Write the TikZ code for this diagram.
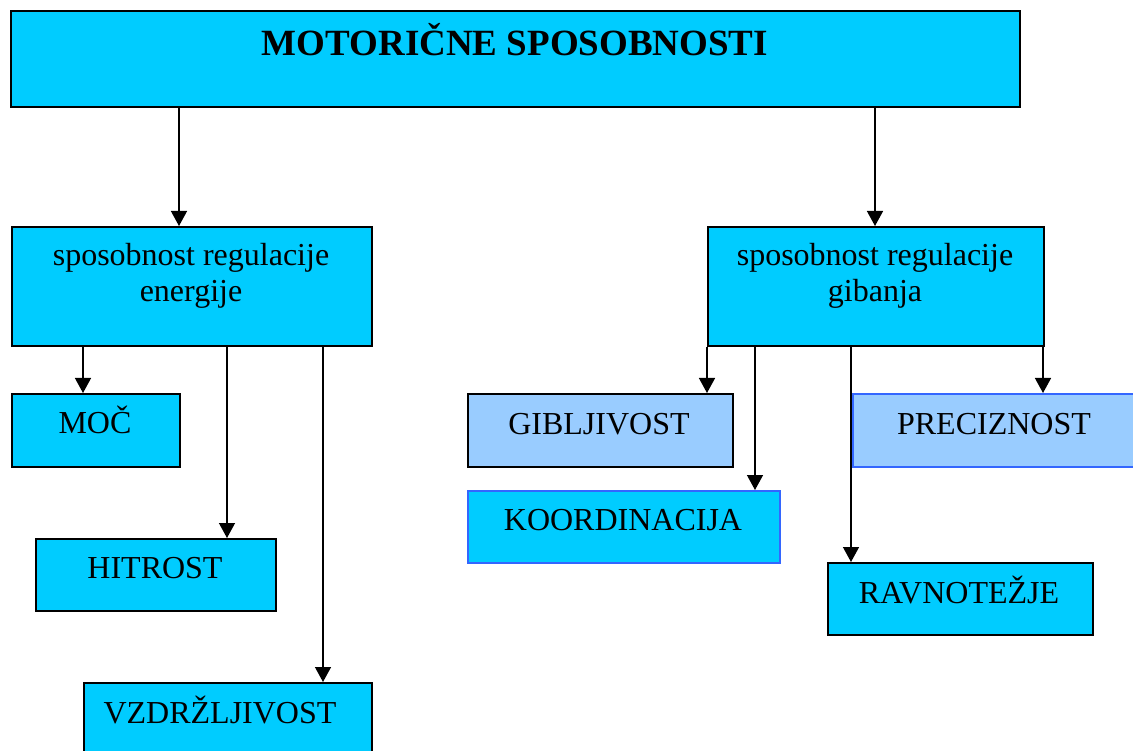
\documentclass[tikz,border=0pt]{standalone}
\usepackage{fontspec}
\setmainfont{Liberation Serif}
\usetikzlibrary{arrows.meta}
\definecolor{boxcyan}{HTML}{00CCFF}
\definecolor{boxlight}{HTML}{99CCFF}
\definecolor{edgeblue}{HTML}{3366FF}
\tikzset{
  box/.style={draw=black, fill=boxcyan, line width=1.8pt, rectangle, inner sep=0pt, anchor=north west},
  lightbox/.style={box, fill=boxlight},
  blueedge/.style={draw=edgeblue},
  lbl/.style={anchor=base, inner sep=0pt, font=\fontsize{32}{36}\selectfont},
  titlelbl/.style={anchor=base, inner sep=0pt, font=\fontsize{37}{40}\selectfont\bfseries},
  conn/.style={line width=1.4pt, -{Triangle[width=16pt,length=15pt]}},
}
\begin{document}
\begin{tikzpicture}[x=1pt,y=-1pt]
\useasboundingbox (0,0) rectangle (1133,751);
\clip (0,0) rectangle (1133,751);
\fill[white] (0,0) rectangle (1133,751);

% boxes
\node[box, minimum width=1009pt, minimum height=96pt] (title) at (10,10) {};
\node[box, minimum width=360pt, minimum height=119pt] (energ) at (11,226) {};
\node[box, minimum width=336pt, minimum height=119pt] (giban) at (707,226) {};
\node[box, minimum width=168pt, minimum height=73pt] (moc) at (11,393) {};
\node[box, minimum width=240pt, minimum height=72pt] (hitr) at (35,538) {};
\node[box, minimum width=288pt, minimum height=72pt] (vzdr) at (83,682) {};
\node[lightbox, minimum width=265pt, minimum height=73pt] (gibl) at (467,393) {};
\node[box, blueedge, minimum width=312pt, minimum height=72pt] (koord) at (467,490) {};
\node[lightbox, blueedge, minimum width=284pt, minimum height=73pt] (prec) at (852,393) {};
\node[box, minimum width=265pt, minimum height=72pt] (ravn) at (827,562) {};

% texts
\node[titlelbl] (ttitle) at (515,56) {MOTORIČNE SPOSOBNOSTI};
\node[lbl] (tenerg1) at (191,266) {sposobnost regulacije};
\node[lbl] (tenerg2) at (191,302) {energije};
\node[lbl] (tgiban1) at (875,266) {sposobnost regulacije};
\node[lbl] (tgiban2) at (875,302) {gibanja};
\node[lbl] (tmoc) at (95,433) {MOČ};
\node[lbl] (thitr) at (155,578) {HITROST};
\node[lbl] (tvzdr) at (220,723) {VZDRŽLJIVOST};
\node[lbl] (tgibl) at (599,434) {GIBLJIVOST};
\node[lbl] (tkoord) at (623,530) {KOORDINACIJA};
\node[lbl] (tprec) at (994,434) {PRECIZNOST};
\node[lbl] (travn) at (959,603) {RAVNOTEŽJE};

% connector x positions
\coordinate (xa) at (179,0);
\coordinate (xb) at (875,0);
\coordinate (xc) at (83,0);
\coordinate (xd) at (227,0);
\coordinate (xe) at (323,0);
\coordinate (xf) at (707,0);
\coordinate (xg) at (755,0);
\coordinate (xh) at (851,0);
\coordinate (xi) at (1043,0);

% connectors
\draw[conn] (title.south -| xa) -- (energ.north -| xa);
\draw[conn] (title.south -| xb) -- (giban.north -| xb);
\draw[conn] (energ.south -| xc) -- (moc.north -| xc);
\draw[conn] (energ.south -| xd) -- (hitr.north -| xd);
\draw[conn] (energ.south -| xe) -- (vzdr.north -| xe);
\draw[conn] (giban.south -| xf) -- (gibl.north -| xf);
\draw[conn] (giban.south -| xg) -- (koord.north -| xg);
\draw[conn] (giban.south -| xh) -- (ravn.north -| xh);
\draw[conn] (giban.south -| xi) -- (prec.north -| xi);
\end{tikzpicture}
\end{document}
